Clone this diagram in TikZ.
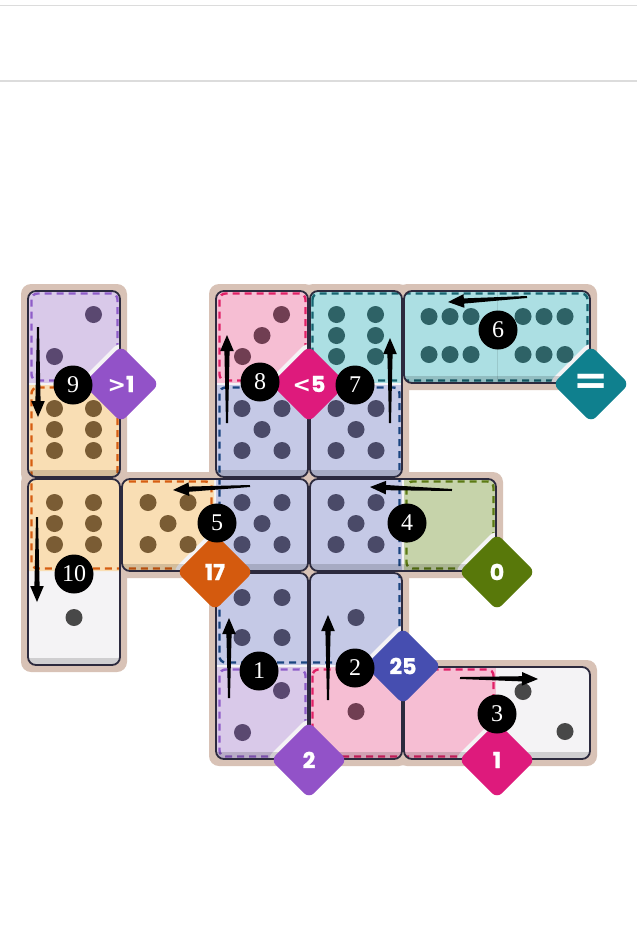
\documentclass[tikz,border=0pt]{standalone}
\usepackage{fontspec}
\setmainfont{Liberation Serif}
\newfontfamily\badgefont{Poppins}[BoldFeatures={FakeBold=1.2}]
\newfontfamily\symfont{DejaVu Sans}
\usetikzlibrary{calc}

\definecolor{boardC}{RGB}{216,194,182}
\definecolor{baseC}{RGB}{244,243,245}
\definecolor{lineC}{RGB}{44,42,62}
\definecolor{topL}{RGB}{220,220,220}
\definecolor{purF}{RGB}{217,201,233}
\definecolor{purD}{RGB}{142,92,200}
\definecolor{purP}{RGB}{90,72,112}
\definecolor{purB}{RGB}{146,82,200}
\definecolor{oraF}{RGB}{249,222,180}
\definecolor{oraD}{RGB}{214,94,18}
\definecolor{oraP}{RGB}{122,92,52}
\definecolor{oraB}{RGB}{212,90,14}
\definecolor{pinF}{RGB}{246,190,211}
\definecolor{pinD}{RGB}{224,32,102}
\definecolor{pinP}{RGB}{112,62,82}
\definecolor{pinB}{RGB}{222,26,124}
\definecolor{teaF}{RGB}{172,223,227}
\definecolor{teaD}{RGB}{22,100,112}
\definecolor{teaP}{RGB}{46,98,102}
\definecolor{teaB}{RGB}{15,128,142}
\definecolor{bluF}{RGB}{197,201,230}
\definecolor{bluD}{RGB}{26,68,128}
\definecolor{bluP}{RGB}{74,74,104}
\definecolor{bluB}{RGB}{70,78,176}
\definecolor{grnF}{RGB}{198,211,170}
\definecolor{grnD}{RGB}{92,122,20}
\definecolor{grnB}{RGB}{88,120,10}
\definecolor{whiP}{RGB}{72,72,72}

\tikzset{
  badge/.style={rectangle, rotate=45, minimum size=54, inner sep=0, rounded corners=7},
  btext/.style={text=white, inner sep=0, font=\badgefont\bfseries\fontsize{22}{22}\selectfont},
  numc/.style={circle, fill=black, minimum size=39, inner sep=0, text=white, font=\fontsize{24}{24}\selectfont},
  regdash/.style={dash pattern=on 7 off 5, line width=2.4, rounded corners=6},
  dom/.style={draw=lineC, line width=1.8, rounded corners=8},
}

% pip layouts (x/y offsets, y downward)
\def\Pone{0/0}
\def\Ptwo{19.5/-21,-19.5/21}
\def\Ptwob{-21/-20,21/20}
\def\Pthree{19.5/-21,0/0,-19.5/21}
\def\Pfour{-20/-20,20/-20,-20/20,20/20}
\def\Pfive{-20/-21,20/-21,0/0,-20/21,20/21}
\def\Psixv{-19.5/-21,19.5/-21,-19.5/0,19.5/0,-19.5/21,19.5/21}
\def\Psixh{-21/-19,0/-19,21/-19,-21/19,0/19,21/19}
\newcommand\pips[4]{\foreach \u/\v in #4 {\fill[#3] ({#1+\u},{#2-1.5+\v}) circle (8.5);}}

% notch around a badge, inside its owner cell
\newcommand\halo[6]{\begin{scope}\clip (#3,#4) rectangle (#5,#6);
  \fill[baseC, rounded corners=10] (#1,#2-44) -- (#1+44,#2) -- (#1,#2+44) -- (#1-44,#2) -- cycle;\end{scope}}

% tapered arrow from #1 (tail) to #2 (tip)
\newcommand\tarrow[2]{%
  \coordinate (tb) at ($(#2)!16pt!(#1)$);
  \fill[black] ($(#1)!1pt!90:(#2)$) -- ($(tb)!2.6pt!-90:(#1)$) -- ($(tb)!6.8pt!-90:(#1)$) -- (#2)
     -- ($(tb)!6.8pt!90:(#1)$) -- ($(tb)!2.6pt!90:(#1)$) -- ($(#1)!1pt!-90:(#2)$) -- cycle;}

\begin{document}
\begin{tikzpicture}[x=1pt,y=-1pt]
\useasboundingbox (0,0) rectangle (637,940);
\fill[white] (0,0) rectangle (637,940);

% top rules
\draw[topL, line width=1.5] (0,5.5) -- (637,5.5);
\draw[topL, line width=1.5] (0,81) -- (637,81);

% board
\begin{scope}[boardC, rounded corners=10]
\fill (21,284) rectangle (127,484);
\fill (21,472) rectangle (127,672);
\fill (115,472) rectangle (315,578);
\fill (209,284) rectangle (315,484);
\fill (303,284) rectangle (409,484);
\fill (397,284) rectangle (597,390);
\fill (303,472) rectangle (503,578);
\fill (209,566) rectangle (315,766);
\fill (303,566) rectangle (409,766);
\fill (397,660) rectangle (597,766);
\end{scope}

% faces, region fills, dashed borders, notches, shading
\begin{scope}
\clip[rounded corners=8]
  (28,291) rectangle (120,477)
  (28,479) rectangle (120,665)
  (122,479) rectangle (308,571)
  (216,291) rectangle (308,477)
  (310,291) rectangle (402,477)
  (404,291) rectangle (590,383)
  (310,479) rectangle (496,571)
  (216,573) rectangle (308,759)
  (310,573) rectangle (402,759)
  (404,667) rectangle (590,759);
\fill[baseC] (0,0) rectangle (637,940);
% region fills
\fill[purF] (28,291) rectangle (120,383);
\fill[oraF] (28,385) -- (120,385) -- (120,479) -- (214,479) -- (214,571) -- (28,571) -- cycle;
\fill[pinF] (216,291) rectangle (308,383);
\fill[teaF] (310,291) rectangle (590,383);
\fill[bluF] (216,385) rectangle (402,665);
\fill[grnF] (404,479) rectangle (496,571);
\fill[purF] (216,667) rectangle (308,759);
\fill[pinF] (310,667) rectangle (496,759);
% dashed region borders
\draw[regdash, purD] (31.5,293.5) rectangle (117.5,380.5);
\draw[regdash, oraD] (31.5,387.5) -- (117.5,387.5) -- (117.5,481.5) -- (211.5,481.5) -- (211.5,568.5) -- (31.5,568.5) -- cycle;
\draw[regdash, pinD] (219.5,293.5) rectangle (305.5,380.5);
\draw[regdash, teaD] (312.5,293.5) rectangle (587.5,380.5);
\draw[regdash, bluD] (219.5,387.5) rectangle (399.5,662.5);
\draw[regdash, grnD] (406.5,481.5) rectangle (493.5,568.5);
\draw[regdash, purD] (219.5,669.5) rectangle (305.5,756.5);
\draw[regdash, pinD] (312.5,669.5) rectangle (493.5,756.5);
% notches around the badges
\halo{121}{384}{27}{290}{121}{384}
\halo{309}{384}{215}{290}{309}{384}
\halo{591}{384}{497}{290}{591}{384}
\halo{215}{572}{121}{478}{215}{572}
\halo{497}{572}{403}{478}{497}{572}
\halo{403}{666}{309}{572}{403}{666}
\halo{309}{760}{215}{666}{309}{760}
\halo{497}{760}{403}{666}{497}{760}
% bottom shading of each piece
\begin{scope}[black, opacity=0.15]
\fill (27,470) rectangle (121,478);
\fill (27,658) rectangle (121,666);
\fill (121,564) rectangle (309,572);
\fill (215,470) rectangle (403,478);
\fill (403,376) rectangle (591,384);
\fill (309,564) rectangle (497,572);
\fill (215,752) rectangle (403,760);
\fill (403,752) rectangle (591,760);
\end{scope}
\draw[black, opacity=0.1, line width=1] (497,291) -- (497,383);
\end{scope}

% outlines of the pieces
\draw[dom] (28,291) rectangle (120,477);
\draw[dom] (28,479) rectangle (120,665);
\draw[dom] (122,479) rectangle (308,571);
\draw[dom] (216,291) rectangle (308,477);
\draw[dom] (310,291) rectangle (402,477);
\draw[dom] (404,291) rectangle (590,383);
\draw[dom] (310,479) rectangle (496,571);
\draw[dom] (216,573) rectangle (308,759);
\draw[dom] (310,573) rectangle (402,759);
\draw[dom] (404,667) rectangle (590,759);

% pips
\pips{74}{337}{purP}{\Ptwo}
\pips{74}{431}{oraP}{\Psixv}
\pips{74}{525}{oraP}{\Psixv}
\pips{74}{619}{whiP}{\Pone}
\pips{168}{525}{oraP}{\Pfive}
\pips{262}{337}{pinP}{\Pthree}
\pips{262}{431}{bluP}{\Pfive}
\pips{262}{525}{bluP}{\Pfive}
\pips{262}{619}{bluP}{\Pfour}
\pips{262}{713}{purP}{\Ptwo}
\pips{356}{337}{teaP}{\Psixv}
\pips{356}{431}{bluP}{\Pfive}
\pips{356}{525}{bluP}{\Pfive}
\pips{356}{619}{bluP}{\Pone}
\pips{356}{713}{pinP}{\Pone}
\pips{450}{337}{teaP}{\Psixh}
\pips{544}{337}{teaP}{\Psixh}
\pips{544}{713}{whiP}{\Ptwob}

% badges
\node[badge, fill=purB] (bg1) at (121,384) {};
\node[btext] (bt1) at (bg1) {{\symfont\bfseries >}1};
\node[badge, fill=pinB] (bg2) at (309,384) {};
\node[btext] (bt2) at (bg2) {{\symfont\bfseries <}5};
\node[badge, fill=teaB] (bg3) at (591,384) {};
\node[btext, font=\symfont\bfseries\fontsize{42}{42}\selectfont] (bt3) at (bg3) {=};
\node[badge, fill=oraB] (bg4) at (215,572) {};
\node[btext] (bt4) at (bg4) {17};
\node[badge, fill=grnB] (bg5) at (497,572) {};
\node[btext] (bt5) at (bg5) {0};
\node[badge, fill=bluB] (bg6) at (403,666) {};
\node[btext] (bt6) at (bg6) {25};
\node[badge, fill=purB] (bg7) at (309,760) {};
\node[btext] (bt7) at (bg7) {2};
\node[badge, fill=pinB] (bg8) at (497,760) {};
\node[btext] (bt8) at (bg8) {1};

% numbered markers
\node[numc] (n1) at (259,671) {1};
\node[numc] (n2) at (355,668) {2};
\node[numc] (n3) at (497,714) {3};
\node[numc] (n4) at (407,523) {4};
\node[numc] (n5) at (217,523) {5};
\node[numc] (n6) at (498,330) {6};
\node[numc] (n7) at (355,385) {7};
\node[numc] (n8) at (260,382) {8};
\node[numc] (n9) at (73,385) {9};
\node[numc] (n10) at (74,574) {10};

% arrows
\coordinate (a1s) at (229,698); \coordinate (a1e) at (229,618);
\coordinate (a2s) at (328,700); \coordinate (a2e) at (328,615);
\coordinate (a3s) at (460,678); \coordinate (a3e) at (538,679);
\coordinate (a4s) at (452,490); \coordinate (a4e) at (370,487);
\coordinate (a5s) at (250,486); \coordinate (a5e) at (173,490);
\coordinate (a6s) at (527,297); \coordinate (a6e) at (448,302);
\coordinate (a7s) at (390,423); \coordinate (a7e) at (390,338);
\coordinate (a8s) at (227,423); \coordinate (a8e) at (227,335);
\coordinate (a9s) at (38,327);  \coordinate (a9e) at (38,417);
\coordinate (a10s) at (37,517); \coordinate (a10e) at (37,602);
\tarrow{a1s}{a1e}
\tarrow{a2s}{a2e}
\tarrow{a3s}{a3e}
\tarrow{a4s}{a4e}
\tarrow{a5s}{a5e}
\tarrow{a6s}{a6e}
\tarrow{a7s}{a7e}
\tarrow{a8s}{a8e}
\tarrow{a9s}{a9e}
\tarrow{a10s}{a10e}
\end{tikzpicture}
\end{document}
